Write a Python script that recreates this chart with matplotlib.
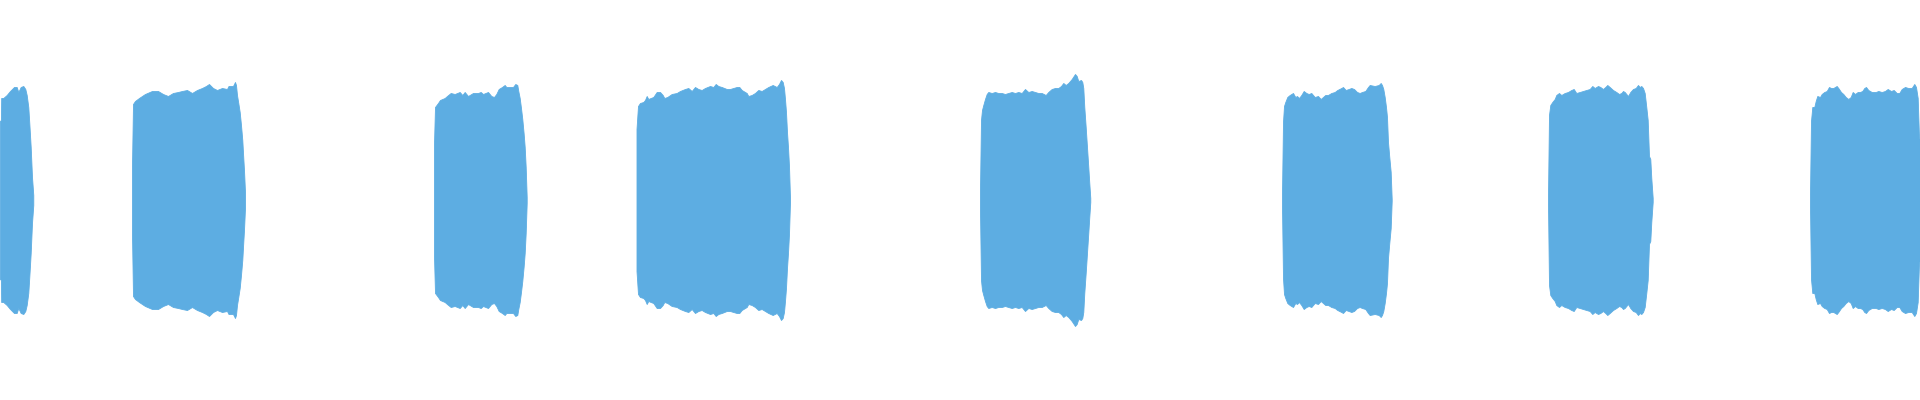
import matplotlib
matplotlib.use("Agg")
import matplotlib.pyplot as plt

# Waveform envelope data: time (frame) and peak amplitude for each voiced burst
seg1_t = [0, 0.9, 1.2, 3.3, 6.7, 10, 14, 16.7, 18.3, 20.7, 23.3, 25.3, 26.7, 28.3, 29.3, 30.7, 32, 33.3]
seg1_a = [79, 80, 102, 102, 105, 109, 113, 113, 108, 113, 114, 111, 105, 93, 77, 53, 23, 5]

seg2_t = [132, 133, 135, 139, 145, 152, 158, 163, 168, 173, 178, 182, 187, 192, 197, 202, 206, 209,
          213, 217, 222, 227, 228.5, 233, 235, 236, 237, 238.3, 239.7, 241, 242.3, 243.3, 244, 245]
seg2_a = [34, 96, 99, 102, 106, 109, 109, 106, 104, 107, 108, 109, 110, 107, 110, 112, 114, 116,
          112, 110, 112, 111, 114, 114, 118, 115, 105, 97, 88, 75, 60, 42, 30, 8]

seg3_t = [434, 435, 438, 440, 444.7, 447, 450.7, 454.7, 459.7, 462.3, 464.7, 468, 473, 478, 480.7,
          483, 488, 491.3, 494, 496.3, 498.7, 502, 504.7, 506.3, 509.7, 513, 515.3, 517.3, 518.3,
          519.7, 521, 522.3, 523.7, 524.7, 525.7, 526.7]
seg3_a = [56, 93, 97, 100, 102, 104, 107, 106, 108, 105, 108, 104, 107, 107, 108,
          106, 108, 104, 103, 106, 111, 113, 115, 113, 113, 113, 116, 115, 109,
          102, 92, 81, 66, 53, 33, 3]

seg4_t = [636.5, 638, 640, 643.3, 645, 646.7, 648.3, 650.7, 653.3, 656.7, 660, 662.7, 664.3, 667.3,
          671.7, 676.7, 680, 685, 688.3, 691.7, 695, 698.3, 701.7, 705, 710, 713.3, 715.7, 718.3,
          721.7, 726.7, 730, 733.3, 736.7, 739.3, 741.7, 745, 746.7, 748.3, 751.7, 755, 758.3,
          761.7, 765, 768.3, 772.7, 776.7, 779, 781, 782.7, 784, 785, 786, 787, 788, 789, 790]
seg4_a = [71, 94, 97, 98, 100, 104, 101, 102, 103, 108, 108, 105, 102, 103,
          106, 107, 109, 111, 112, 109, 113, 111, 110, 112, 114, 113, 116, 114,
          113, 111, 111, 112, 113, 113, 110, 108, 107, 104, 105, 107, 110,
          109, 111, 113, 115, 113, 116, 120, 118, 112, 101, 88, 68, 53, 34, 2]

seg5_t = [980, 981, 982, 983.3, 985, 986.7, 988.3, 991.7, 995, 998.3, 1001.7, 1005, 1008.3, 1011.7,
          1015, 1018.3, 1021.7, 1025, 1028.3, 1031.7, 1035, 1038.3, 1041.7, 1045.7, 1048.3, 1051.7,
          1055, 1058.3, 1061, 1063.3, 1065.7, 1068.3, 1071.7, 1075, 1076.7, 1078.3, 1081, 1082.3,
          1083.3, 1084.3, 1085.7, 1087, 1088.3, 1089.3, 1090.3]
seg5_a = [10, 80, 90, 95, 101, 106, 108, 107, 108, 107, 107, 106, 107, 108,
          107, 108, 107, 111, 108, 109, 108, 107, 107, 105, 108, 111,
          112, 112, 114, 117, 115, 117, 121, 126, 124, 119, 120, 118,
          112, 93, 73, 53, 33, 17, 2]

seg6_t = [1282, 1283, 1284, 1285.3, 1287.3, 1289.7, 1293, 1295.3, 1297, 1299, 1301.3, 1303.7, 1306.3,
          1308.7, 1311.3, 1314.7, 1318, 1320.7, 1323, 1325.3, 1328, 1331.3, 1334.7, 1337.3, 1341.3,
          1343, 1345.7, 1348.7, 1351.3, 1354, 1357, 1359.7, 1362, 1365.3, 1368, 1369.7, 1374.7,
          1378.7, 1380.7, 1382, 1383.3, 1384.7, 1386, 1387, 1388, 1389.3, 1390.7, 1391.7]
seg6_a = [6, 78, 94, 98, 103, 105, 107, 103, 104, 102, 105, 109, 107,
          106, 107, 103, 104, 101, 103, 105, 105, 107, 108, 110, 112,
          113, 110, 111, 112, 111, 108, 107, 108, 109, 113, 115, 114,
          115, 117, 115, 111, 103, 93, 83, 58, 43, 28, 1]

seg7_t = [1548, 1549, 1550.3, 1552.3, 1554.7, 1556.3, 1559, 1561.3, 1564.7, 1568, 1571.3, 1573.7,
          1576.3, 1579.7, 1583, 1586.3, 1589.7, 1592.3, 1594.7, 1598, 1600.3, 1603, 1605.3, 1607.3,
          1609.7, 1613, 1616.3, 1619, 1621.3, 1623, 1624.7, 1628, 1630.3, 1633, 1635.7, 1638,
          1639.7, 1641.3, 1643, 1644.7, 1646.3, 1647.7, 1649, 1650.3, 1651.3, 1652.7]
seg7_a = [4, 85, 95, 98, 101, 105, 107, 105, 107, 108, 110, 111,
          107, 108, 109, 110, 111, 114, 112, 114, 113, 111, 113, 115,
          113, 110, 108, 106, 107, 109, 108, 104, 108, 111, 112, 115,
          113, 114, 112, 107, 93, 80, 44, 41, 22, 2]

seg8_t = [1810, 1811, 1812.3, 1814.3, 1815.7, 1817.3, 1820, 1821.7, 1824.3, 1826.7, 1829, 1831,
          1833.3, 1836.7, 1838.3, 1841, 1843.3, 1845.7, 1848.3, 1850.7, 1852.7, 1855, 1857.7, 1860,
          1862.3, 1864.3, 1866, 1868.3, 1871.7, 1875.7, 1878.3, 1881.7, 1885, 1887.7, 1891, 1893.7,
          1896.7, 1899.3, 1901.7, 1905, 1908.3, 1911.7, 1914.3, 1916, 1917.7, 1919, 1920]
seg8_a = [6, 79, 93, 93, 99, 104, 103, 106, 108, 109, 113, 112,
          112, 114, 112, 108, 106, 103, 101, 103, 108, 106, 108, 108,
          109, 112, 113, 110, 108, 108, 109, 108, 109, 111, 109, 110,
          107, 107, 111, 113, 112, 112, 116, 113, 102, 63, 60]

segments = [(seg1_t, seg1_a), (seg2_t, seg2_a), (seg3_t, seg3_a), (seg4_t, seg4_a),
            (seg5_t, seg5_a), (seg6_t, seg6_a), (seg7_t, seg7_a), (seg8_t, seg8_a)]

WAVE_COLOR = "#5DADE2"

fig = plt.figure(figsize=(19.2, 4.0), dpi=100)
ax = fig.add_axes([0, 0, 1, 1])
for t, a in segments:
    ax.fill_between(t, [-v for v in a], a, color=WAVE_COLOR, linewidth=0.6,
                    edgecolor=WAVE_COLOR)
ax.set_xlim(0, 1920)
ax.set_ylim(-200, 200)
ax.axis("off")
fig.savefig("out.png", dpi=100, facecolor="white")
